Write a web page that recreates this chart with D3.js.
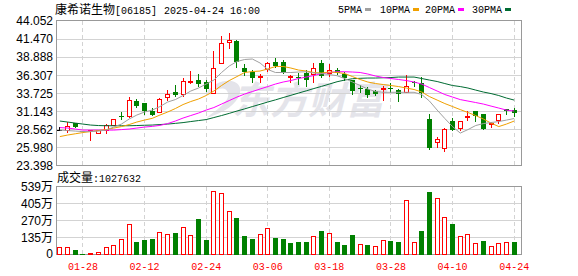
<!DOCTYPE html>
<html>
<head>
<meta charset="utf-8">
<script src="https://d3js.org/d3.v7.min.js"></script>
<style>
    body { margin: 0; background: #fff; }
    svg text {
        font-family: "Liberation Sans", "Noto Sans CJK SC", sans-serif;
        font-size: 12px;
        fill: #000;
    }
    svg text.mono, svg tspan.mono {
        font-family: "Liberation Mono", "Noto Sans CJK SC", monospace;
        font-size: 10px;
    }
    svg tspan.cjk {
        font-family: "Noto Sans CJK SC", sans-serif;
        font-size: 12px;
    }
</style>
<title>康希诺生物 K线</title>
</head>
<body>
<svg width="578" height="276"></svg>
<script>
    // trading days shown (MM-DD)
    var dates = ["01-23", "01-24", "01-27", "01-28", "02-03", "02-04", "02-05", "02-06", "02-07", "02-10",
        "02-11", "02-12", "02-13", "02-14", "02-17", "02-18", "02-19", "02-20", "02-21", "02-24",
        "02-25", "02-26", "02-27", "02-28", "03-03", "03-04", "03-05", "03-06", "03-07", "03-10",
        "03-11", "03-12", "03-13", "03-14", "03-17", "03-18", "03-19", "03-20", "03-21", "03-24",
        "03-25", "03-26", "03-27", "03-28", "03-31", "04-01", "04-02", "04-03", "04-07", "04-08",
        "04-09", "04-10", "04-11", "04-14", "04-15", "04-16", "04-17", "04-22", "04-23", "04-24"];

    var open = [28.45, 28.32, 29.42, 28.35, 28.20, 27.99, 28.32, 29.15, 30.46, 30.46,
        32.68, 32.28, 31.25, 31.08, 33.25, 33.90, 33.54, 35.35, 35.61, 35.33,
        33.71, 38.00, 41.00, 41.19, 37.33, 36.80, 36.04, 37.19, 38.23, 38.15,
        35.97, 36.00, 36.62, 36.47, 38.00, 36.57, 37.11, 36.47, 35.61, 34.47,
        34.33, 34.04, 34.28, 34.47, 34.18, 33.86, 35.28, 35.14, 30.03, 26.65,
        25.84, 29.75, 28.79, 30.32, 31.18, 30.71, 29.32, 29.82, 31.42, 31.32];
    var high = [28.90, 29.56, 29.45, 28.40, 28.50, 28.50, 29.32, 30.00, 31.04, 33.22,
        32.90, 32.37, 31.56, 33.08, 34.18, 34.90, 35.97, 36.94, 36.43, 35.61,
        39.76, 41.91, 42.29, 41.40, 37.90, 37.04, 36.43, 38.26, 38.76, 38.47,
        36.33, 36.60, 37.04, 38.04, 38.47, 37.90, 37.33, 36.76, 35.69, 34.90,
        34.66, 34.20, 34.80, 35.14, 34.30, 36.33, 35.47, 36.10, 30.75, 27.53,
        28.82, 30.14, 29.75, 31.18, 31.20, 30.79, 29.56, 30.79, 31.50, 31.61];
    var low = [28.40, 27.99, 28.75, 28.15, 26.89, 27.95, 27.85, 29.10, 29.89, 30.25,
        31.65, 30.61, 30.46, 30.89, 32.61, 33.25, 33.25, 35.04, 34.65, 33.90,
        33.61, 37.90, 40.05, 37.33, 36.19, 35.26, 35.14, 36.76, 37.40, 36.43,
        35.23, 34.90, 34.65, 35.14, 35.86, 36.11, 36.33, 35.54, 33.47, 33.71,
        32.99, 33.33, 32.61, 33.71, 32.42, 33.71, 34.66, 33.08, 25.60, 25.96,
        25.27, 28.27, 28.36, 29.82, 29.56, 28.46, 28.70, 29.39, 30.61, 30.32];
    var close = [28.45, 28.93, 28.79, 28.25, 28.40, 28.46, 29.10, 29.99, 30.25, 32.71,
        31.97, 31.18, 30.61, 32.90, 33.61, 33.40, 35.40, 35.45, 35.04, 34.40,
        37.29, 40.86, 41.33, 38.19, 36.69, 35.94, 36.11, 38.04, 37.71, 36.76,
        36.08, 35.90, 35.61, 37.29, 36.08, 37.04, 36.62, 35.94, 34.04, 34.40,
        33.47, 33.57, 34.37, 34.30, 33.61, 34.75, 35.14, 33.75, 25.89, 27.13,
        28.56, 28.46, 29.75, 30.39, 30.51, 28.60, 29.42, 30.71, 31.14, 30.94];
    var prevClose = 28.30; // close of the day before 01-23

    // volume in 万 shares
    var volume = [63, 63, 40, 10, 13, 21, 63, 77, 127, 243,
        103, 119, 127, 180, 164, 174, 222, 156, 285, 119,
        505, 489, 346, 293, 151, 127, 164, 211, 135, 127,
        95, 103, 103, 151, 190, 172, 103, 79, 159, 85,
        79, 69, 116, 109, 103, 434, 100, 190, 500, 450,
        299, 246, 148, 164, 93, 109, 71, 93, 100, 102.7632];

    var ma5 = [28.46, 28.39, 28.32, 28.25, 28.25, 28.32, 28.46, 28.89, 29.32, 30.04,
        30.61, 31.04, 31.32, 31.82, 32.47, 32.82, 33.40, 34.04, 34.47, 35.04,
        35.61, 36.69, 37.62, 38.26, 38.55, 38.62, 38.05, 37.12, 36.69, 36.69,
        36.69, 36.76, 36.80, 36.62, 36.54, 36.40, 36.23, 35.83, 35.33, 34.83,
        34.33, 33.97, 33.86, 33.86, 33.86, 33.86, 33.86, 33.54, 32.61, 31.32,
        30.11, 28.96, 28.03, 28.53, 29.11, 29.39, 29.54, 29.68, 29.89, 30.11];
    var ma10 = [27.53, 27.75, 27.93, 28.11, 28.25, 28.39, 28.53, 28.75, 28.96, 29.25,
        29.61, 29.89, 30.14, 30.61, 31.04, 31.54, 32.11, 32.54, 32.90, 33.40,
        34.04, 34.83, 35.54, 36.11, 36.69, 36.83, 36.90, 37.19, 37.55, 37.55,
        37.33, 37.04, 36.90, 36.69, 36.62, 36.76, 36.69, 36.54, 36.11, 35.69,
        35.33, 35.11, 34.97, 34.83, 34.68, 34.47, 34.26, 33.90, 33.25, 32.75,
        32.25, 31.82, 31.39, 30.97, 30.54, 30.04, 29.46, 28.96, 29.32, 29.75];
    var ma20 = [28.82, 28.75, 28.61, 28.46, 28.46, 28.46, 28.46, 28.46, 28.53, 28.61,
        28.75, 28.89, 28.99, 29.13, 29.39, 29.75, 30.18, 30.54, 30.89, 31.32,
        31.68, 32.18, 32.68, 33.18, 33.61, 33.97, 34.33, 34.68, 35.04, 35.33,
        35.54, 35.83, 36.04, 36.26, 36.54, 36.69, 36.80, 36.80, 36.76, 36.69,
        36.47, 36.19, 35.97, 35.83, 35.69, 35.54, 35.33, 35.04, 34.54, 34.04,
        33.54, 33.18, 32.82, 32.61, 32.40, 32.18, 31.89, 31.61, 31.32, 31.18];
    var ma30 = [29.75, 29.61, 29.46, 29.32, 29.18, 29.11, 29.08, 29.08, 29.08, 29.08,
        29.11, 29.15, 29.18, 29.25, 29.32, 29.42, 29.53, 29.68, 29.82, 29.96,
        30.25, 30.54, 30.85, 31.18, 31.49, 31.82, 32.14, 32.47, 32.78, 33.11,
        33.43, 33.75, 34.07, 34.40, 34.71, 35.04, 35.37, 35.61, 35.80, 35.86,
        35.90, 35.90, 35.94, 35.97, 36.04, 36.04, 36.04, 35.83, 35.61, 35.40,
        35.11, 34.83, 34.68, 34.47, 34.18, 33.90, 33.68, 33.40, 33.04, 32.75];

    var priceTicks = [23.398, 25.980, 28.562, 31.143, 33.725, 36.307, 38.888, 41.470, 44.052];
    var volTicks = [0, 135, 270, 405, 539];
    var volTickLabels = ["0", "135万", "270万", "405万", "539万"];
    var dateTicks = ["01-28", "02-12", "02-24", "03-06", "03-18", "03-28", "04-10", "04-24"];

    var maNames = ["5PMA", "10PMA", "20PMA", "30PMA"];
    var maColors = ["#a0a0a0", "#f0a000", "#ff00ff", "#006b32"];
    var maSeries = [ma5, ma10, ma20, ma30];

    var UP = "#ff0000", DOWN = "#008000", FLAT = "#000000", GRID = "#d3d3d3", FRAME = "#999999";

    var svg = d3.select("svg");

    var plotL = 56, plotR = 522;
    var x = d3.scaleBand().domain(dates).range([plotL, 518]).padding(0);
    var y = d3.scaleLinear().domain([23.398, 44.052]).range([165.5, 21]);
    var yv = d3.scaleLinear().domain([0, 539]).range([255, 187]);

    function cx(d) { return x(d) + x.bandwidth() / 2; }
    function crisp(v) { return Math.floor(v) + 0.5; }

    // watermark (logo swirl + name)
    var wm = svg.append("g").attr("fill", "#e4e4ea");
    wm.append("path")
        .attr("d", "M216,84 C232,76 246,84 238,98 C232,108 220,114 206,118 C220,108 230,100 228,93 C226,86 218,88 213,93 C210,96 206,94 208,90 Z");
    wm.append("text")
        .attr("x", 232).attr("y", 114)
        .style("font-family", "'Noto Sans CJK SC', sans-serif")
        .style("font-size", "38px")
        .style("font-weight", "bold")
        .style("font-style", "italic")
        .style("fill", "#e4e4ea")
        .text("东方财富");

    // horizontal grid, price panel
    svg.append("g").selectAll("line")
        .data(priceTicks.slice(1, -1))
        .enter().append("line")
        .attr("x1", plotL).attr("x2", plotR)
        .attr("y1", function (d) { return crisp(y(d)); })
        .attr("y2", function (d) { return crisp(y(d)); })
        .attr("stroke", GRID);

    // horizontal grid, volume panel
    svg.append("g").selectAll("line")
        .data(volTicks.slice(1, -1))
        .enter().append("line")
        .attr("x1", plotL).attr("x2", plotR)
        .attr("y1", function (d) { return crisp(yv(d)); })
        .attr("y2", function (d) { return crisp(yv(d)); })
        .attr("stroke", GRID);

    // dashed date grid in both panels
    [[21, 165], [187, 255]].forEach(function (r) {
        svg.append("g").selectAll("line")
            .data(dateTicks)
            .enter().append("line")
            .attr("x1", function (d) { return crisp(cx(d)); })
            .attr("x2", function (d) { return crisp(cx(d)); })
            .attr("y1", r[0]).attr("y2", r[1])
            .attr("stroke", GRID)
            .attr("stroke-dasharray", "4,3");
    });

    // frames
    svg.append("rect").attr("x", plotL + 0.5).attr("y", 20.5)
        .attr("width", plotR - plotL - 1).attr("height", 145)
        .attr("fill", "none").attr("stroke", FRAME);
    svg.append("rect").attr("x", plotL + 0.5).attr("y", 186.5)
        .attr("width", plotR - plotL - 1).attr("height", 68)
        .attr("fill", "none").attr("stroke", FRAME);

    // candles
    var candles = dates.map(function (d, i) {
        return { date: d, o: open[i], h: high[i], l: low[i], c: close[i] };
    });
    var cg = svg.append("g");
    candles.forEach(function (d) {
        var col = d.c > d.o ? UP : (d.c < d.o ? DOWN : FLAT);
        var left = Math.round(cx(d.date) - 2.5);
        var mid = left + 2.5;
        var top = y(Math.max(d.o, d.c)), bot = y(Math.min(d.o, d.c));
        cg.append("line")
            .attr("x1", mid).attr("x2", mid)
            .attr("y1", Math.round(y(d.h))).attr("y2", Math.round(y(d.l)))
            .attr("stroke", col);
        if (d.c > d.o) {
            cg.append("rect")
                .attr("x", left + 0.5).attr("y", crisp(top))
                .attr("width", 4).attr("height", Math.max(1, Math.round(bot - top)))
                .attr("fill", "#fff").attr("stroke", col);
        } else if (d.c < d.o) {
            cg.append("rect")
                .attr("x", left).attr("y", Math.round(top))
                .attr("width", 5).attr("height", Math.max(1, Math.round(bot - top)))
                .attr("fill", col);
        } else {
            cg.append("line")
                .attr("x1", left).attr("x2", left + 5)
                .attr("y1", crisp(top)).attr("y2", crisp(top))
                .attr("stroke", col);
        }
    });

    // moving averages
    var line = d3.line()
        .x(function (v, i) { return cx(dates[i]); })
        .y(function (v) { return y(v); });
    maSeries.slice().reverse().forEach(function (s, k) {
        svg.append("path")
            .attr("d", line(s))
            .attr("fill", "none")
            .attr("stroke", maColors[3 - k])
            .attr("stroke-width", 1);
    });

    // volume bars: red when close >= previous close
    var vg = svg.append("g");
    volume.forEach(function (v, i) {
        var pc = i === 0 ? prevClose : close[i - 1];
        var up = close[i] >= pc;
        var left = Math.round(cx(dates[i]) - 2.5);
        var top = Math.round(yv(v));
        if (up) {
            vg.append("rect")
                .attr("x", left + 0.5).attr("y", top + 0.5)
                .attr("width", 4).attr("height", Math.max(1, 255 - top - 1))
                .attr("fill", "#fff").attr("stroke", UP);
        } else {
            vg.append("rect")
                .attr("x", left).attr("y", top)
                .attr("width", 5).attr("height", 255 - top)
                .attr("fill", DOWN);
        }
    });

    // price labels
    svg.append("g").selectAll("text")
        .data(priceTicks)
        .enter().append("text")
        .attr("x", 53)
        .attr("y", function (d) { return y(d); })
        .attr("dy", "0.36em")
        .attr("text-anchor", "end")
        .text(function (d) { return d.toFixed(3); });

    // volume labels
    svg.append("g").selectAll("text")
        .data(volTicks)
        .enter().append("text")
        .attr("x", 53)
        .attr("y", function (d, i) { return i === 0 ? yv(d) - 1.5 : yv(d); })
        .attr("dy", "0.36em")
        .attr("text-anchor", "end")
        .text(function (d, i) { return volTickLabels[i]; });

    // date labels
    svg.append("g").selectAll("text")
        .data(dateTicks)
        .enter().append("text")
        .attr("class", "mono")
        .attr("x", function (d) { return cx(d); })
        .attr("y", 270)
        .attr("text-anchor", "middle")
        .style("fill", "#ff0000")
        .text(function (d) { return d; });

    // title
    var title = svg.append("text").attr("y", 14);
    title.append("tspan").attr("class", "cjk").attr("x", 55).text("康希诺生物");
    title.append("tspan").attr("class", "mono").attr("x", 115).text("[06185]");
    title.append("tspan").attr("class", "mono").attr("x", 164).text("2025-04-24 16:00");

    // legend
    var legX = [338, 380, 425, 472];
    maNames.forEach(function (n, i) {
        svg.append("text").attr("class", "mono")
            .attr("x", legX[i]).attr("y", 13).text(n);
        svg.append("rect")
            .attr("x", legX[i] + n.length * 6 + 3).attr("y", 8)
            .attr("width", 6).attr("height", 3)
            .attr("fill", maColors[i]);
    });

    // volume caption
    var vt = svg.append("text").attr("y", 182);
    vt.append("tspan").attr("class", "cjk").attr("x", 57).text("成交量");
    vt.append("tspan").attr("class", "mono").text(":" + Math.round(volume[volume.length - 1] * 10000));
</script>
</body>
</html>
